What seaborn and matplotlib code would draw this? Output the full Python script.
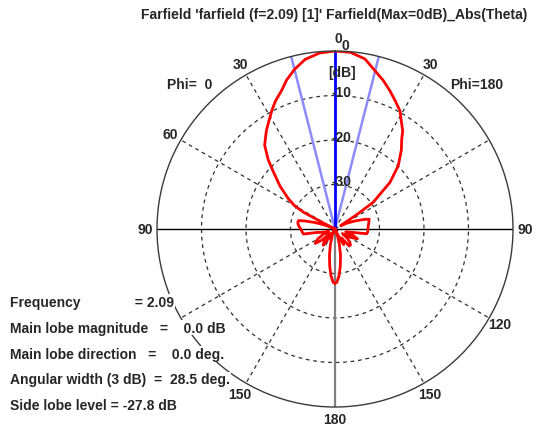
import numpy as np
import pandas as pd
import matplotlib
matplotlib.use("Agg")
import matplotlib.pyplot as plt
import seaborn as sns

# Far-field cut, Phi = 0 half (drawn to the left of the axis)
theta_phi0 = [0, 5, 10, 14.25, 18, 21, 25, 28, 32, 35, 40, 44, 47, 52, 57, 60, 62, 63, 64.5,
              67, 70, 72, 75, 77, 80, 85, 90, 95, 99, 101, 105, 110, 115, 120, 126, 130,
              133, 138, 144, 148, 152, 156, 160, 163, 168, 172, 175, 178, 180]
db_phi0 = [0, -0.3, -1.3, -3.0, -4.8, -6.6, -8.3, -9.8, -11.8, -13.1, -15.4, -18.4, -21.0,
           -24.3, -27.5, -29.5, -32.0, -37.5, -40.0,
           -38.5, -37.0, -35.3, -33.0, -31.6, -31.5, -31.8, -32.3, -32.6, -32.8, -36.0,
           -37.0, -38.5, -37.0, -35.5, -34.5, -36.0, -38.5, -36.5, -35.5, -38.0, -40.0,
           -38.5, -38.0, -36.5, -34.0, -31.5, -29.5, -28.0, -27.8]

# Far-field cut, Phi = 180 half (drawn to the right of the axis)
theta_phi180 = [0, 5, 10, 13.5, 18, 21.7, 25, 28.8, 32, 34.6, 36.5, 40, 45, 49.7, 55, 56.5,
                58, 60, 64, 68, 72, 74, 80, 85, 90, 95, 98.5, 101, 105, 110, 114, 118, 122,
                127, 132, 136, 140, 144, 148, 151, 154, 158, 161, 164, 168, 172, 175, 178, 180]
db_phi180 = [0, -0.15, -1.2, -3.0, -4.9, -6.6, -8.1, -9.7, -11.8, -13.2, -14.8, -16.8, -19.9,
             -23.8, -29.5, -34.0, -38.0, -38.5, -37.0, -35.2, -33.0, -32.0, -32.3, -32.5,
             -32.6, -32.6, -32.8, -36.0, -37.5, -35.5, -34.5, -36.0, -38.0, -36.5, -35.5,
             -35.0, -35.0, -37.5, -36.5, -36.0, -38.5, -40.0, -38.0, -36.5, -34.0, -31.5,
             -29.5, -28.0, -27.8]

# Scale and annotations
db_rings = [-10, -20, -30]
db_min = -40
spoke_angles = [30, 60, 120, 150]
main_dir = 0.0
beam_width = 28.5
left_labels = [30, 60, 90, 150]
right_labels = [30, 90, 120, 150]
title = "Farfield 'farfield (f=2.09) [1]' Farfield(Max=0dB)_Abs(Theta)"
info_lines = [
    "Frequency              = 2.09",
    "Main lobe magnitude   =    0.0 dB",
    "Main lobe direction   =    0.0 deg.",
    "Angular width (3 dB)  =  28.5 deg.",
    "Side lobe level = -27.8 dB",
]

sns.set_style("white")
plt.rcParams["font.family"] = ["Liberation Sans", "DejaVu Sans"]
plt.rcParams["font.weight"] = "bold"

W, H = 538, 427
fig = plt.figure(figsize=(W / 100, H / 100), dpi=100)
fig.patch.set_facecolor("white")


def fx(x):
    return x / W


def fy(y):
    return 1 - y / H


cx, cy, R = 335, 230, 178
ax = fig.add_axes([fx(cx - R), fy(cy + R), 2 * R / W, 2 * R / H], projection="polar")
ax.set_theta_zero_location("N")
ax.set_theta_direction(1)
ax.set_ylim(db_min, 0)
ax.set_xticks([])
ax.set_yticks([])
ax.grid(False)
ax.spines["polar"].set_color("#3a3a3a")
ax.spines["polar"].set_linewidth(1.0)

full = np.linspace(0, 2 * np.pi, 721)
for v in db_rings:
    ax.plot(full, np.full_like(full, v), color="#303030", lw=0.9, ls=(0, (3, 3)))
for a in spoke_angles:
    for s in (1, -1):
        t = np.deg2rad(s * a)
        ax.plot([t, t], [db_min, 0], color="#303030", lw=0.9, ls=(0, (3, 3)))

# axes through the centre
ax.plot([np.pi / 2, np.pi / 2], [db_min, 0], color="black", lw=1.0)
ax.plot([-np.pi / 2, -np.pi / 2], [db_min, 0], color="black", lw=1.0)
ax.plot([np.pi, np.pi], [db_min, 0], color="#808080", lw=1.6)

# 3 dB beam edges and main lobe direction
for s in (1, -1):
    t = np.deg2rad(main_dir + s * beam_width / 2)
    ax.plot([t, t], [db_min, 0], color="#8c8cff", lw=1.8)
ax.plot([np.deg2rad(main_dir)] * 2, [db_min, 0], color="#0000ff", lw=2.0)

# pattern
pat = pd.concat([
    pd.DataFrame({"ang": np.deg2rad(theta_phi180[::-1]) * -1, "db": db_phi180[::-1]}),
    pd.DataFrame({"ang": np.deg2rad(theta_phi0), "db": db_phi0}),
], ignore_index=True)
pat["db"] = pat["db"].clip(lower=db_min)
sns.lineplot(data=pat, x="ang", y="db", sort=False, estimator=None, color="#ff0000",
             lw=2.0, ax=ax, legend=False)
ax.set_xlabel("")
ax.set_ylabel("")
ax.set_ylim(db_min, 0)

fs = 10
# dB scale along the main direction
for v in db_rings:
    ax.annotate(f"{v}", xy=(0, v), xytext=(-4, 3), textcoords="offset pixels",
                ha="left", va="center", fontsize=fs, fontweight="bold")
ax.annotate("0", xy=(0, 0), xytext=(7, 6), textcoords="offset pixels",
            ha="left", va="center", fontsize=fs, fontweight="bold")
ax.annotate("[dB]", xy=(0, 0), xytext=(7, -21), textcoords="offset pixels",
            ha="center", va="center", fontsize=fs, fontweight="bold")

# theta labels
lab_r = 2.7
lab_kw = dict(ha="center", va="center", fontsize=fs, fontweight="bold")
ax.annotate("0", xy=(0, lab_r + 0.3), xytext=(3, 0), textcoords="offset pixels",
            annotation_clip=False, **lab_kw)
ax.text(np.pi, lab_r, "180", **lab_kw)
for a in left_labels:
    ax.text(np.deg2rad(a), lab_r, str(a), **lab_kw)
for a in right_labels:
    ax.text(np.deg2rad(-a), lab_r, str(a), **lab_kw)

fig.text(fx(190), fy(85), "Phi=  0", ha="center", va="center", fontsize=fs, fontweight="bold")
fig.text(fx(477), fy(85), "Phi=180", ha="center", va="center", fontsize=fs, fontweight="bold")

fig.text(fx(334), fy(15), title, ha="center", va="center", fontsize=10, fontweight="bold")

for i, line in enumerate(info_lines):
    fig.text(fx(10), fy(303 + 25.75 * i), line, ha="left", va="center", fontsize=fs,
             fontweight="bold",
             bbox=dict(facecolor="white", edgecolor="none", pad=0.5))

fig.savefig("out.png", dpi=100, facecolor="white")
